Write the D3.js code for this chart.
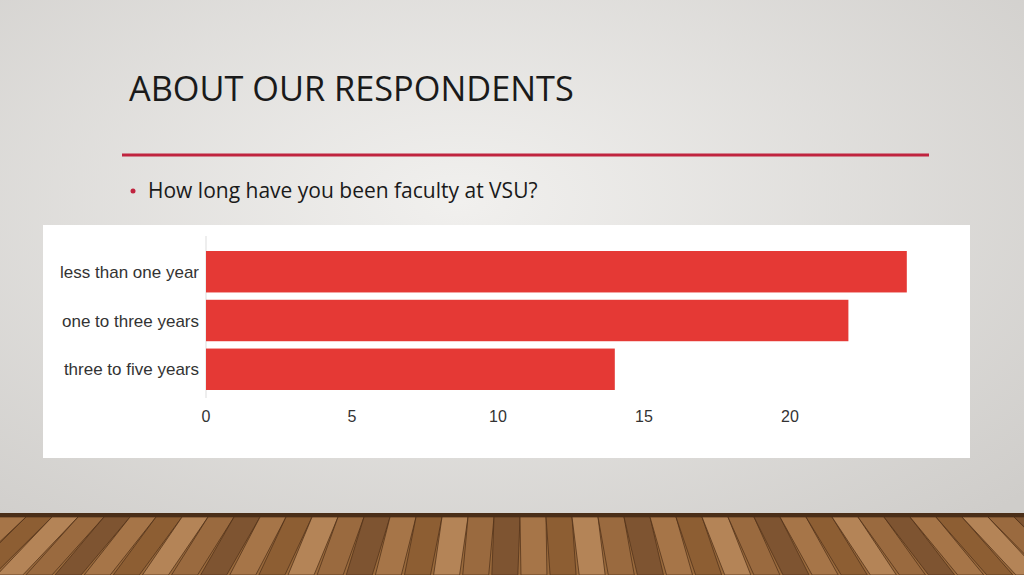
<!DOCTYPE html>
<html><head><meta charset="utf-8">
<script src="https://cdn.jsdelivr.net/npm/d3@7"></script>
<style>body{margin:0;overflow:hidden}</style>
</head><body>
<svg id="slide" width="1024" height="575"></svg>
<script>
const categories = ['less than one year', 'one to three years', 'three to five years'];
const counts = [24, 22, 14];
const ticks = [0, 5, 10, 15, 20];

const svg = d3.select('#slide');
const defs = svg.append('defs');

// Slide background: soft radial gray
const bg = defs.append('radialGradient').attr('id', 'bg')
  .attr('cx', '45%').attr('cy', '35%').attr('r', '75%');
bg.append('stop').attr('offset', '0%').attr('stop-color', '#f1f0ee');
bg.append('stop').attr('offset', '100%').attr('stop-color', '#cfcdca');
svg.append('rect').attr('width', 1024).attr('height', 575).attr('fill', 'url(#bg)');

// Wooden floor
const floor = svg.append('g');
floor.append('rect').attr('y', 513).attr('width', 1024).attr('height', 62).attr('fill', '#9a6a3c');
floor.append('rect').attr('y', 513).attr('width', 1024).attr('height', 4).attr('fill', '#4a2e18');
const plankShades = ['#a8774a', '#8c5d33', '#b7875a', '#9b6b40', '#7c5230'];
d3.range(0, 1060, 26).forEach((x, i) => {
  floor.append('path')
    .attr('d', `M${x},517 L${x + 26},517 L${x + 26 + (x - 512) * 0.12},575 L${x + (x - 512) * 0.12},575Z`)
    .attr('fill', plankShades[i % plankShades.length])
    .attr('stroke', '#4e3019').attr('stroke-width', 0.8).attr('opacity', 0.9);
});

// Title and rule
svg.append('text').attr('x', 129).attr('y', 101)
  .attr('font-family', 'Open Sans, Noto Sans, sans-serif').attr('font-size', 34.3)
  .attr('fill', '#1a1a1a').text('ABOUT OUR RESPONDENTS');
svg.append('line').attr('x1', 122).attr('x2', 929).attr('y1', 155).attr('y2', 155)
  .attr('stroke', '#c0243f').attr('stroke-width', 3);
svg.append('circle').attr('cx', 133).attr('cy', 191).attr('r', 2.5).attr('fill', '#c0243f');
svg.append('text').attr('x', 148).attr('y', 198)
  .attr('font-family', 'Open Sans, Noto Sans, sans-serif').attr('font-size', 21)
  .attr('fill', '#1a1a1a').text('How long have you been faculty at VSU?');

// Chart panel
svg.append('rect').attr('x', 43).attr('y', 225).attr('width', 927).attr('height', 233).attr('fill', '#fff');

const x = d3.scaleLinear().domain([0, 5]).range([206, 352]);
const y = d3.scaleBand().domain(categories).range([251, 390]).paddingInner(0.15).paddingOuter(0);

const g = svg.append('g').attr('font-family', 'Liberation Sans, Arial, sans-serif');
g.append('line').attr('x1', x(0)).attr('x2', x(0)).attr('y1', 236).attr('y2', 398)
  .attr('stroke', '#ddd');
g.selectAll('rect.bar').data(counts).enter().append('rect')
  .attr('class', 'bar')
  .attr('x', x(0)).attr('y', (d, i) => y(categories[i]))
  .attr('width', d => x(d) - x(0)).attr('height', y.bandwidth())
  .attr('fill', '#e53935');
g.selectAll('text.cat').data(categories).enter().append('text')
  .attr('class', 'cat').attr('x', 199).attr('y', d => y(d) + y.bandwidth() / 2 + 6)
  .attr('text-anchor', 'end').attr('font-size', 17).attr('fill', '#333').text(d => d);
g.selectAll('text.tick').data(ticks).enter().append('text')
  .attr('class', 'tick').attr('x', d => x(d)).attr('y', 422)
  .attr('text-anchor', 'middle').attr('font-size', 16).attr('fill', '#333').text(d => d);
</script>
</body></html>
